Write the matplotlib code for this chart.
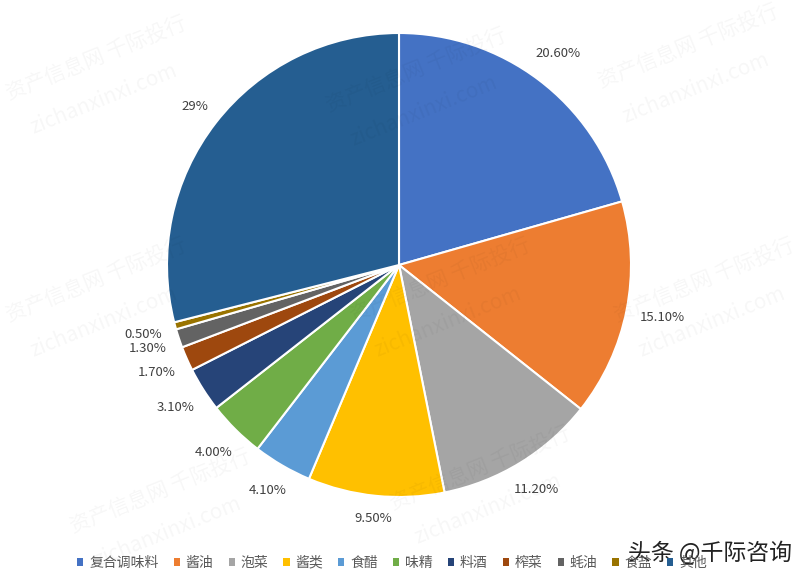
import matplotlib
matplotlib.use("Agg")
import matplotlib.pyplot as plt
import numpy as np
from matplotlib.patches import Patch

plt.rcParams["font.family"] = ["Noto Sans CJK SC", "DejaVu Sans"]

categories = ["复合调味料", "酱油", "泡菜", "酱类", "食醋", "味精", "料酒", "榨菜", "蚝油", "食盐", "其他"]
shares = [20.6, 15.1, 11.2, 9.5, 4.1, 4.0, 3.1, 1.7, 1.3, 0.5, 29]
share_labels = ["20.60%", "15.10%", "11.20%", "9.50%", "4.10%", "4.00%", "3.10%", "1.70%", "1.30%", "0.50%", "29%"]
colors = ["#4472C4", "#ED7D31", "#A5A5A5", "#FFC000", "#5B9BD5", "#70AD47",
          "#264478", "#9E480E", "#636363", "#997300", "#255E91"]

fig = plt.figure(figsize=(8, 5.85), dpi=100)
# square axes, pie centre at (399, 265) px from top, radius ~232 px
ax = fig.add_axes([(399 - 280) / 800, (320 - 280) / 585, 560 / 800, 560 / 585])

wedges, _ = ax.pie(shares, colors=colors, startangle=90, counterclock=False,
                   wedgeprops=dict(edgecolor="white", linewidth=1.5))
lim = 280 / 232
ax.set_xlim(-lim, lim)
ax.set_ylim(-lim, lim)
ax.set_aspect("equal")
ax.axis("off")

# labels sit just outside the rim, pushed out by half their box size
for w, lab in zip(wedges, share_labels):
    ang = np.deg2rad((w.theta1 + w.theta2) / 2)
    c, s = np.cos(ang), np.sin(ang)
    half_w = 3.6 * len(lab) / 232
    half_h = 7 / 232
    r = 1.06 + half_w * abs(c) + half_h * abs(s)
    ax.text(r * c, r * s, lab, ha="center", va="center",
            fontsize=9.5, color="#404040")

handles = [Patch(facecolor=c, edgecolor="none") for c in colors]
fig.legend(handles, categories, loc="center", bbox_to_anchor=(0.49, 0.038), ncol=11,
           frameon=False, fontsize=10, handlelength=0.45, handleheight=0.45,
           handletextpad=0.4, columnspacing=1.1, labelcolor="#595959")

# faint watermarks
for (x, y) in [(0.12, 0.9), (0.86, 0.92), (0.52, 0.88), (0.12, 0.52), (0.88, 0.52),
               (0.55, 0.52), (0.2, 0.16), (0.6, 0.2)]:
    fig.text(x, y, "资产信息网 千际投行", rotation=22, fontsize=15, color="#000000",
             alpha=0.035, ha="center", va="center")
    fig.text(x + 0.01, y - 0.07, "zichanxinxi.com", rotation=22, fontsize=15,
             color="#000000", alpha=0.035, ha="center", va="center")

fig.text(0.888, 0.055, "头条 @千际咨询", fontsize=16.5, color="#222222", ha="center", va="center")

fig.savefig("out.png", dpi=100)
